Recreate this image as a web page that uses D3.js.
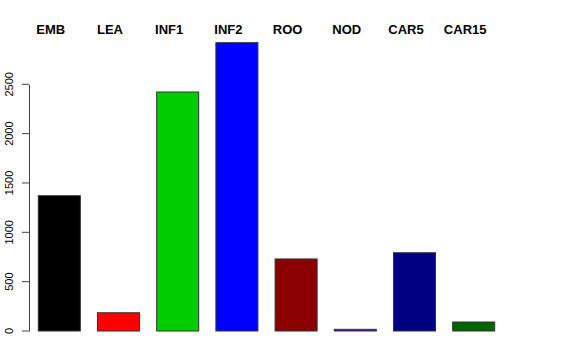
<!DOCTYPE html>
<html>
<head>
<meta charset="utf-8">
<script src="https://cdn.jsdelivr.net/npm/d3@7"></script>
<style>
  body { margin: 0; background: #fff; }
  text { font-family: "Liberation Sans", Arial, sans-serif; }
</style>
</head>
<body>
<div id="chart"></div>
<script>
// data
var tissues = ["EMB", "LEA", "INF1", "INF2", "ROO", "NOD", "CAR5", "CAR15"];
var counts = [1371, 185, 2422, 2922, 730, 17, 793, 91];
var barColors = ["#000000", "#ff0000", "#00cd00", "#0000ff", "#8b0000", "#551a8b", "#000080", "#006400"];
var yTicks = [0, 500, 1000, 1500, 2000, 2500];

var svgWidth = 576;
var svgHeight = 360;

var svg = d3.select("#chart")
  .append("svg")
  .attr("width", svgWidth)
  .attr("height", svgHeight);

// scales
var xScale = d3.scaleBand()
  .domain(tissues)
  .range([38.3, 494.7])
  .paddingInner(0.29)
  .paddingOuter(0);

var yScale = d3.scaleLinear()
  .domain([0, 2500])
  .range([331, 84.3]);

// y axis
var yAxis = d3.axisLeft(yScale)
  .tickValues(yTicks)
  .tickFormat(d3.format("d"))
  .tickSize(7)
  .tickSizeOuter(0)
  .tickPadding(4);

var yAxisG = svg.append("g")
  .attr("transform", "translate(29,0)")
  .call(yAxis);

var labX = -16;
yAxisG.select(".domain").attr("stroke", "#444");
yAxisG.selectAll(".tick line").attr("stroke", "#444");
yAxisG.selectAll(".tick text")
  .attr("font-size", 11)
  .attr("fill", "#000")
  .attr("font-family", "Liberation Sans, Arial, sans-serif")
  .attr("transform", function(d) { return "rotate(-90," + labX + "," + yScale(d) + ")"; })
  .attr("x", labX)
  .attr("dy", 0)
  .attr("y", function(d) { return yScale(d); })
  .style("text-anchor", "middle");
yAxisG.selectAll(".tick").attr("transform", null);
yAxisG.selectAll(".tick line").attr("y1", d => yScale(d)).attr("y2", d => yScale(d));

// bars
svg.append("g").selectAll("rect")
  .data(tissues)
  .enter()
  .append("rect")
  .attr("x", d => xScale(d))
  .attr("width", xScale.bandwidth())
  .attr("y", (d, i) => yScale(counts[i]))
  .attr("height", (d, i) => yScale(0) - yScale(counts[i]))
  .attr("fill", (d, i) => barColors[i])
  .attr("stroke", "#333")
  .attr("stroke-width", 1);

// labels on top
svg.append("g").selectAll("text")
  .data(tissues)
  .enter()
  .append("text")
  .attr("x", d => xScale(d) + xScale.bandwidth() / 2 - 8.5)
  .attr("y", 33.5)
  .attr("font-size", 13)
  .attr("font-weight", "bold")
  .style("text-anchor", "middle")
  .text(d => d);
</script>
</body>
</html>
